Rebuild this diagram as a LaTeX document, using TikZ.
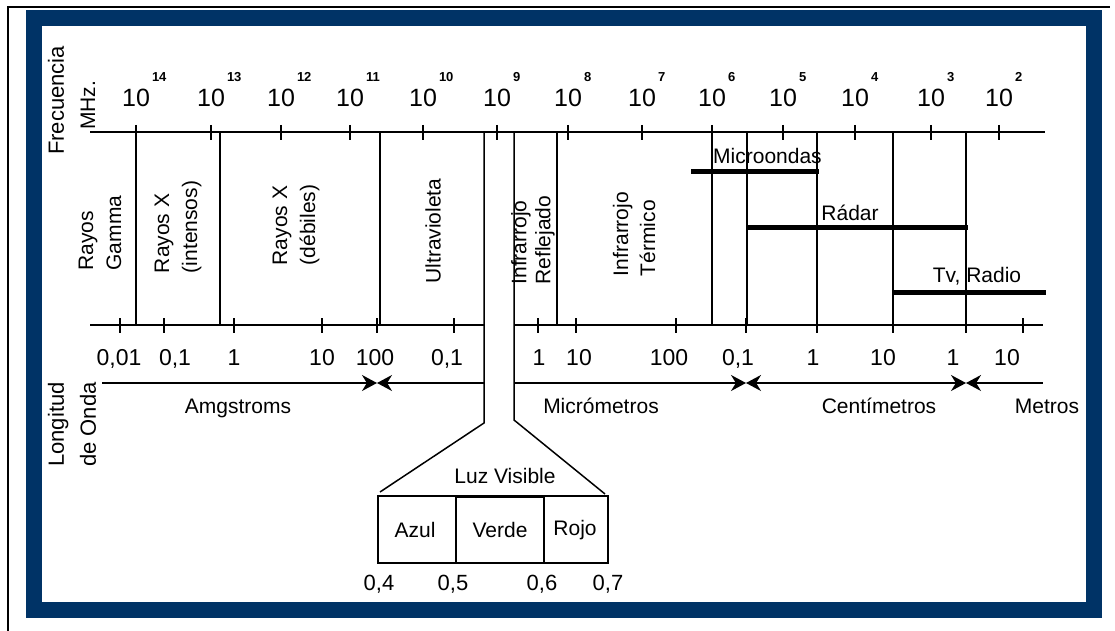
\documentclass[tikz,border=0pt]{standalone}
\usepackage{fontspec}
\setmainfont{Liberation Sans}
\usepackage{tikz}
\usetikzlibrary{positioning,arrows.meta}
\definecolor{marco}{RGB}{0,51,102}
\newcommand{\diez}[1]{10\hspace{2pt}\raisebox{25pt}{\fontsize{13}{13}\selectfont\bfseries #1}}

\begin{document}
\begin{tikzpicture}[x=1pt,y=-1pt,
    lbl/.style={font=\fontsize{21}{28}\selectfont,inner sep=0},
    vlbl/.style={lbl,rotate=90,align=left},
    num/.style={font=\fontsize{23}{23}\selectfont,anchor=base,inner sep=0},
    pot/.style={font=\fontsize{25}{25}\selectfont,anchor=base west,inner sep=0},
    eje/.style={line width=1.5},
    barra/.style={line width=5},
    cota/.style={line width=1.5,>={Stealth[length=15pt,width=16pt]}}
]
\useasboundingbox (0,0) rectangle (1115,631);
\draw[line width=2.5] (8,631) -- (8,7) -- (1110,7);
\draw[marco,line width=16] (34,18) rectangle (1094,610);

% ejes
\draw[eje] (90,132) -- (1045,132);
\draw[eje] (90,325) -- (484,325);
\draw[eje] (514,325) -- (1043,325);

\foreach \x/\e [count=\i] in {136/14,211/13,281/12,350/11,423/10,497/9,568/8,642/7,712/6,783/5,855/4,931/3,999/2}{
  \draw[eje] (\x,125) -- (\x,140);
  \node[pot] (f\i) at (\x-14,107) {\diez{\e}};
}
\foreach \x in {120,164,234,322,377,454,538,576,676,746,817,893,966,1023}
  \draw[eje] (\x,318) -- (\x,333);
\foreach \x/\t [count=\i] in {119/{0,01},175/{0,1},234/1,322/10,375/100,447/{0,1},539/1,579/10,669/100,738/{0,1},813/1,883/10,953/1,1007/10}
  \node[num] (w\i) at (\x,365) {\t};

% divisiones
\foreach \x in {136,220,380,557,712,747,817,893,966}
  \draw[eje] (\x,132) -- (\x,325);
\draw[eje] (484,132) -- (484,423) -- (380,492);
\draw[eje] (514,132) -- (514,420) -- (605,494);

\node[lbl,anchor=west,rotate=90,font=\fontsize{22}{28}\selectfont] (frec) at (56,155) {Frecuencia};
\node[lbl,anchor=west,rotate=90] (mhz) at (88,130) {MHz.};
\node[vlbl,anchor=west,font=\fontsize{22}{32}\selectfont] (long) at (72,467) {Longitud\\de Onda};

\node[vlbl] (gamma) at (100,233) {Rayos\\Gamma};
\node[vlbl] (rxi) at (178,227) {Rayos X\\(intensos)};
\node[vlbl] (rxd) at (296,225) {Rayos X\\(débiles)};
\node[vlbl] (uv) at (433,231) {Ultravioleta};
\node[vlbl,font=\fontsize{21}{24}\selectfont] (irr) at (533,240) {Infrarrojo\\Reflejado};
\node[vlbl,font=\fontsize{21}{27}\selectfont] (irt) at (634,234) {Infrarrojo\\Térmico};

% bandas
\draw[barra] (691,172) -- (819,172);
\draw[barra] (746,227) -- (968,227);
\draw[barra] (892,292) -- (1046,292);
\node[lbl,anchor=base west] (micro) at (713,164) {Microondas};
\node[lbl,anchor=base] (radar) at (850,220) {Rádar};
\node[lbl,anchor=base] (tv) at (977,282) {Tv, Radio};

% unidades
\coordinate (u0) at (102,383);
\coordinate (m1) at (377,383);
\coordinate (c1) at (484,383);
\coordinate (c2) at (514,383);
\coordinate (m2) at (746,383);
\coordinate (m3) at (966,383);
\coordinate (u1) at (1043,383);
\draw[cota,->] (u0) -- (m1);
\draw[cota,<-] (m1) -- (c1);
\draw[cota,->] (c2) -- (m2);
\draw[cota,<->] (m2) -- (m3);
\draw[cota,<-] (m3) -- (u1);
\node[lbl,anchor=base] (ang) at (238,413) {Amgstroms};
\node[lbl,anchor=base] (mic) at (601,413) {Micrómetros};
\node[lbl,anchor=base] (cm) at (879,413) {Centímetros};
\node[lbl,anchor=base] (m) at (1047,413) {Metros};

% luz visible
\draw[eje] (378,496) rectangle (608,563);
\draw[eje] (456,496) -- (456,563);
\draw[eje] (544,496) -- (544,563);
\draw[line width=3] (456,496) -- (544,496);
\node[lbl] (luz) at (505,476) {Luz Visible};
\node[lbl] (azul) at (415,530) {Azul};
\node[lbl] (verde) at (500,530) {Verde};
\node[lbl] (rojo) at (575,530) {Rojo};
\foreach \x/\t [count=\i] in {379/{0,4},453/{0,5},542/{0,6},608/{0,7}}
  \node[num,font=\fontsize{22}{22}\selectfont] (v\i) at (\x,590) {\t};
\end{tikzpicture}
\end{document}
